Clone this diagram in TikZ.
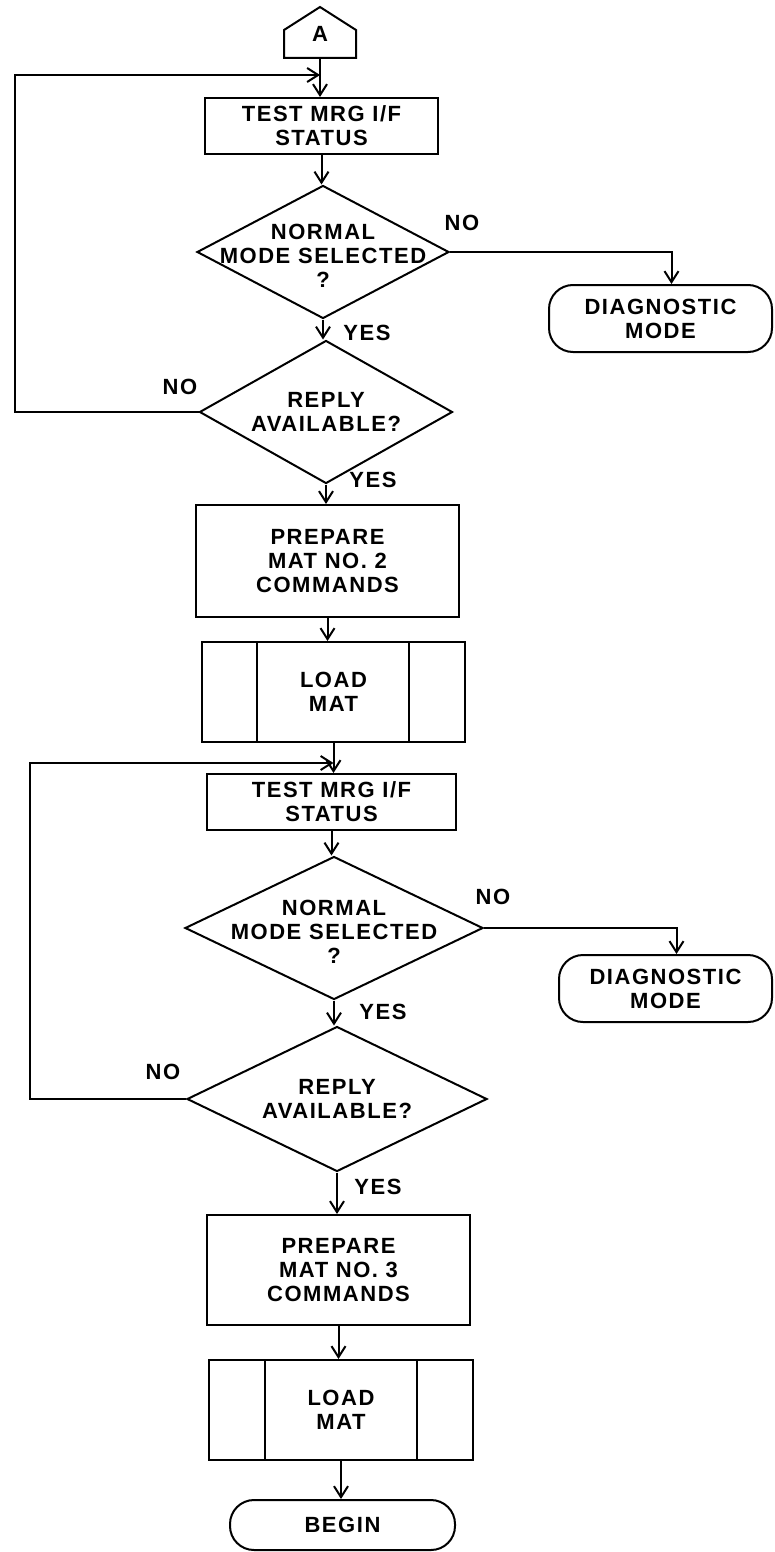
\documentclass[tikz,border=0pt]{standalone}
\usepackage{fontspec}
\newfontfamily\chartfont{Liberation Sans}[LetterSpace=7]
\usetikzlibrary{arrows.meta, shapes.geometric}

\begin{document}
\begin{tikzpicture}[
      x=1pt, y=-1pt,
      line width=2pt,
      >={Straight Barb[length=11pt, width=14pt]},
      every node/.style={font=\chartfont\bfseries\fontsize{22}{24}\selectfont, align=center},
      process/.style={draw, rectangle, inner sep=0pt},
      subproc/.style={draw, rectangle, inner sep=0pt},
      decision/.style={draw, diamond, inner sep=0pt},
      terminal/.style={draw, rectangle, rounded corners=24pt, inner sep=0pt},
    ]

    \useasboundingbox (0,0) rectangle (774,1552);

    % off-page connector
    \node (conA) at (320,34) {A};
    \draw (284,58) -- (284,30) -- (320,7) -- (356,30) -- (356,58) -- cycle;
    \coordinate (conAbot) at (320,58);
    \coordinate (join1) at (320,75);
    \coordinate (left1) at (15,75);

    \node[process, minimum width=233pt, minimum height=56pt] (test1) at (321.5,126) {TEST MRG I/F\\STATUS};
    \node[decision, minimum width=252pt, minimum height=133pt,
          label={[yshift=-4pt]center:NORMAL\\MODE SELECTED\\?}] (dia1) at (323,252) {};
    \node[terminal, minimum width=223pt, minimum height=67pt] (diag1) at (660.5,318.5) {DIAGNOSTIC\\MODE};
    \node[decision, minimum width=253pt, minimum height=143pt,
          label={center:REPLY\\AVAILABLE?}] (dia2) at (326,412) {};
    \node[process, minimum width=263pt, minimum height=112pt] (prep1) at (327.5,561) {PREPARE\\MAT NO. 2\\COMMANDS};
    \node[subproc, minimum width=263pt, minimum height=100pt] (load1) at (333.5,692) {LOAD\\MAT};

    \coordinate (join2) at (333.5,763);
    \coordinate (left2) at (30,763);

    \node[process, minimum width=249pt, minimum height=56pt] (test2) at (331.5,802) {TEST MRG I/F\\STATUS};
    \node[decision, minimum width=298pt, minimum height=143pt,
          label={[yshift=-4pt]center:NORMAL\\MODE SELECTED\\?}] (dia3) at (334,928) {};
    \node[terminal, minimum width=213pt, minimum height=67pt] (diag2) at (665.5,988.5) {DIAGNOSTIC\\MODE};
    \node[decision, minimum width=300pt, minimum height=145pt,
          label={center:REPLY\\AVAILABLE?}] (dia4) at (337,1099) {};
    \node[process, minimum width=263pt, minimum height=110pt] (prep2) at (338.5,1270) {PREPARE\\MAT NO. 3\\COMMANDS};
    \node[subproc, minimum width=264pt, minimum height=100pt] (load2) at (341,1410) {LOAD\\MAT};
    \node[terminal, minimum width=225pt, minimum height=50pt] (begin) at (342.5,1525) {BEGIN};

    % side bars of the predefined process boxes
    \draw ([xshift=56pt]load1.north west) -- ([xshift=56pt]load1.south west)
          ([xshift=-57pt]load1.north east) -- ([xshift=-57pt]load1.south east);
    \draw ([xshift=57pt]load2.north west) -- ([xshift=57pt]load2.south west)
          ([xshift=-57pt]load2.north east) -- ([xshift=-57pt]load2.south east);

    % branch labels
    \node (no1) at (462,223) {NO};
    \node (yes1) at (367,333) {YES};
    \node (no2) at (180,387) {NO};
    \node (yes2) at (373,480) {YES};
    \node (no3) at (493,897) {NO};
    \node (yes3) at (383,1012) {YES};
    \node (no4) at (163,1072) {NO};
    \node (yes4) at (378,1187) {YES};

    \path[->]
    (conAbot)     edge (conAbot |- test1.north)
    (test1.south) edge (test1.south |- dia1.north)
    (dia1.south)  edge (dia1.south |- dia2.north)
    (dia2.south)  edge (dia2.south |- prep1.north)
    (prep1.south) edge (prep1.south |- load1.north)
    (load1.south) edge (load1.south |- test2.north)
    (test2.south) edge (test2.south |- dia3.north)
    (dia3.south)  edge (dia3.south |- dia4.north)
    (dia4.south)  edge (dia4.south |- prep2.north)
    (prep2.south) edge (prep2.south |- load2.north)
    (load2.south) edge (load2.south |- begin.north);

    \draw[->] (dia1.east) -| ([xshift=11pt]diag1.north);
    \draw[->] (dia3.east) -| ([xshift=11pt]diag2.north);
    \draw[->] (dia2.west) -| (left1) -- (join1);
    \draw[->] (dia4.west) -| (left2) -- (join2);

  \end{tikzpicture}
\end{document}
